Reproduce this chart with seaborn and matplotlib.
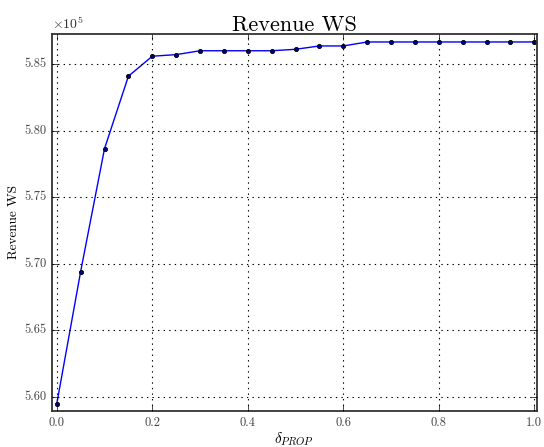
import matplotlib
matplotlib.use("Agg")
import matplotlib.pyplot as plt
import seaborn as sns
import numpy as np
import pandas as pd

# delta_PROP steps and revenue (WS)
delta_prop = [0.00, 0.05, 0.10, 0.15, 0.20, 0.25, 0.30, 0.35, 0.40, 0.45, 0.50,
              0.55, 0.60, 0.65, 0.70, 0.75, 0.80, 0.85, 0.90, 0.95, 1.00]
revenue_ws = [559500, 569420, 578650, 584080, 585580, 585700, 585990, 585990,
              585990, 585990, 586100, 586350, 586350, 586650, 586650, 586650,
              586650, 586650, 586650, 586650, 586650]

df = pd.DataFrame({"delta": delta_prop, "revenue": revenue_ws})

plt.style.use("classic")
plt.rcParams["font.family"] = "serif"
plt.rcParams["font.serif"] = ["cmr10", "DejaVu Serif"]
plt.rcParams["mathtext.fontset"] = "cm"
plt.rcParams["axes.unicode_minus"] = False

fig = plt.figure(figsize=(5.44, 4.47), dpi=100, facecolor="white")
ax = fig.add_axes([0.0956, 0.0805, 0.891, 0.8435])

sns.lineplot(data=df, x="delta", y="revenue", ax=ax, color="blue",
             marker="o", markersize=3.0, markerfacecolor="#000080",
             markeredgecolor="black", markeredgewidth=0.6, linewidth=1.0)

ax.set_xlim(-0.01, 1.005)
ax.set_ylim(558950, 587250)
ax.set_xticks([0.0, 0.2, 0.4, 0.6, 0.8, 1.0])
ax.set_yticks([560000, 565000, 570000, 575000, 580000, 585000])
ax.yaxis.set_major_formatter(matplotlib.ticker.FuncFormatter(lambda v, p: f"{v/1e5:.2f}"))
ax.text(0.0, 1.004, r"$\times10^{5}$", transform=ax.transAxes, fontsize=10,
        ha="left", va="bottom", color="#333333")

ax.grid(True, linestyle=":", color="black", linewidth=0.8)
ax.tick_params(labelsize=9, labelcolor="#444444", direction="in")
for s in ax.spines.values():
    s.set_linewidth(1.3)
    s.set_color("#333333")

ax.set_title("Revenue WS", fontsize=16, pad=2)
ax.set_xlabel(r"$\delta_{PROP}$", fontsize=11, labelpad=1)
ax.set_ylabel("Revenue WS", fontsize=9.5, labelpad=3)

fig.savefig("out.png", dpi=100, facecolor="white")
